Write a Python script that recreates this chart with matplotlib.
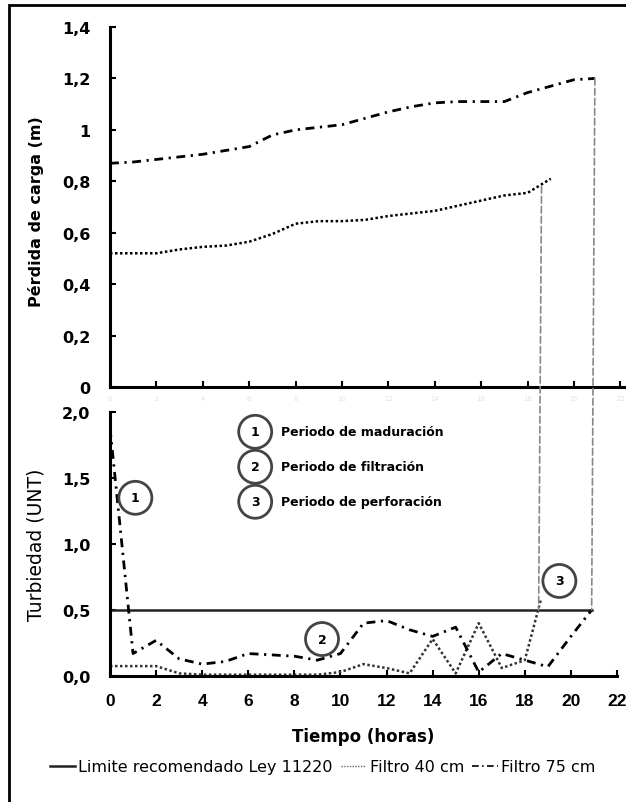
import matplotlib
matplotlib.use('Agg')
from matplotlib import pyplot as plt
from matplotlib.patches import ConnectionPatch, Rectangle
from matplotlib.lines import Line2D

plt.rcParams['font.family'] = ['DejaVu Sans']

# perdida de carga (m)
horas_p40 = [0, 1, 2, 3, 4, 5, 6, 7, 8, 9, 10, 11, 12, 13, 14, 15, 16, 17, 18, 19]
perdida_40 = [0.52, 0.52, 0.52, 0.535, 0.545, 0.55, 0.565, 0.595, 0.635, 0.645,
              0.645, 0.65, 0.665, 0.675, 0.685, 0.705, 0.725, 0.745, 0.755, 0.81]
horas_p75 = [0, 1, 2, 3, 4, 5, 6, 7, 8, 9, 10, 11, 12, 13, 14, 15, 16, 17, 18, 19, 20, 20.9]
perdida_75 = [0.87, 0.875, 0.885, 0.895, 0.905, 0.92, 0.935, 0.98, 1.0, 1.01, 1.02,
              1.045, 1.07, 1.09, 1.105, 1.11, 1.11, 1.11, 1.145, 1.17, 1.195, 1.20]

# turbiedad (UNT)
horas_t40 = [0, 1, 2, 3, 4, 5, 6, 7, 8, 9, 10, 11, 12, 13, 14, 15, 16, 17, 18, 18.7]
turb_40 = [0.075, 0.075, 0.075, 0.02, 0.01, 0.01, 0.01, 0.01, 0.01, 0.01,
           0.03, 0.09, 0.06, 0.02, 0.28, 0.02, 0.40, 0.06, 0.12, 0.58]
horas_t75 = [0, 1, 2, 3, 4, 5, 6, 7, 8, 9, 10, 11, 12, 13, 14, 15, 16, 17, 18, 19, 20, 20.9]
turb_75 = [1.88, 0.17, 0.27, 0.13, 0.09, 0.11, 0.17, 0.16, 0.15, 0.12, 0.17,
           0.40, 0.42, 0.35, 0.30, 0.37, 0.03, 0.17, 0.12, 0.07, 0.30, 0.50]

limite_horas = [0, 20.9]
limite_valor = [0.5, 0.5]

# fin de carrera de cada filtro
corte_40 = (18.6, 0.78)
corte_75 = (20.9, 1.20)

xticks = list(range(0, 23, 2))
yticks_top = [0, 0.2, 0.4, 0.6, 0.8, 1.0, 1.2, 1.4]
ylabels_top = ['0', '0,2', '0,4', '0,6', '0,8', '1', '1,2', '1,4']
yticks_bot = [0, 0.5, 1.0, 1.5, 2.0]
ylabels_bot = ['0,0', '0,5', '1,0', '1,5', '2,0']

periodos = ['Periodo de maduración', 'Periodo de filtración', 'Periodo de perforación']

ls_40 = (0, (1, 1))
ls_75 = (0, (3.2, 2, 0.8, 2))

fig = plt.figure(figsize=(6.26, 8.03), dpi=100)
fig.patches.append(Rectangle((9 / 626, -0.1), 1.2, 1.1 - 6 / 803, transform=fig.transFigure,
                             fill=False, edgecolor='black', linewidth=2))

# top: perdida de carga
ax1 = fig.add_axes([110 / 626, 1 - 388 / 803, 516 / 626, 360 / 803])
ax1.plot(horas_p40, perdida_40, color='black', linestyle=ls_40, linewidth=1.8)
ax1.plot(horas_p75, perdida_75, color='black', linestyle=ls_75, linewidth=2.0)
ax1.set_xlim(0, 516 / 23.2)
ax1.set_ylim(0, 1.4)
ax1.set_yticks(yticks_top)
ax1.set_yticklabels(ylabels_top, fontsize=11.5, fontweight='bold')
ax1.set_xticks(xticks)
ax1.set_xticklabels([str(x) for x in xticks], fontsize=5, color='#e2e2e2')
ax1.set_ylabel('Pérdida de carga (m)', fontsize=11.5, fontweight='bold')
ax1.yaxis.set_label_coords(-0.128, 0.49)
ax1.spines['top'].set_visible(False)
ax1.spines['right'].set_visible(False)
ax1.spines['left'].set_linewidth(2.2)
ax1.spines['bottom'].set_linewidth(2.2)
ax1.tick_params(direction='in', length=4, width=1.5)
ax1.tick_params(axis='y', pad=14)
ax1.tick_params(axis='x', pad=6)

# bottom: turbiedad
ax2 = fig.add_axes([110 / 626, 1 - 677 / 803, 507 / 626, 264 / 803])
ax2.plot(limite_horas, limite_valor, color='#222222', linewidth=1.8)
ax2.plot(horas_t40, turb_40, color='#333333', linestyle=ls_40, linewidth=1.8)
ax2.plot(horas_t75, turb_75, color='black', linestyle=ls_75, linewidth=2.0)
ax2.set_xlim(0, 22)
ax2.set_ylim(0, 2.0)
ax2.set_yticks(yticks_bot)
ax2.set_yticklabels(ylabels_bot, fontsize=11.5, fontweight='bold')
ax2.set_xticks(xticks)
ax2.set_xticklabels([str(x) for x in xticks], fontsize=12.5, fontweight='bold',
                    family='Liberation Sans')
ax2.set_xlabel('Tiempo (horas)', fontsize=12, fontweight='bold', labelpad=14)
ax2.set_ylabel('Turbiedad (UNT)', fontsize=13.5)
ax2.yaxis.set_label_coords(-0.128, 0.5)
ax2.spines['top'].set_visible(False)
ax2.spines['right'].set_visible(False)
ax2.spines['left'].set_linewidth(2.2)
ax2.spines['bottom'].set_linewidth(2.2)
ax2.tick_params(direction='in', length=4, width=1.5)
ax2.tick_params(axis='x', pad=12)
ax2.tick_params(axis='y', pad=14)

circ = dict(boxstyle='circle,pad=0.8', facecolor='white', edgecolor='#444444', linewidth=2)
ax2.text(1.1, 1.35, '1', fontsize=9, fontweight='bold', ha='center', va='center', bbox=circ)
ax2.text(9.2, 0.28, '2', fontsize=9, fontweight='bold', ha='center', va='center', bbox=circ)
ax2.text(19.5, 0.72, '3', fontsize=9, fontweight='bold', ha='center', va='center', bbox=circ)
for i, (yy, txt) in enumerate(zip([1.85, 1.585, 1.32], periodos)):
    ax2.text(6.3, yy, str(i + 1), fontsize=9, fontweight='bold', ha='center', va='center', bbox=circ)
    ax2.text(7.4, yy, txt, fontsize=9, fontweight='bold', ha='left', va='center')

for xx, yy in [corte_40, corte_75]:
    con = ConnectionPatch(xyA=(xx, yy), coordsA=ax1.transData,
                          xyB=(xx, 0.5), coordsB=ax2.transData,
                          color='#888888', linestyle=(0, (4, 2)), linewidth=1.2)
    fig.add_artist(con)

h_lim = Line2D([], [], color='#222222', linewidth=1.8)
h_40 = Line2D([], [], color='#666666', linestyle=(0, (1, 1)), linewidth=1.0)
h_75 = Line2D([], [], color='black', linestyle=(0, (4, 2, 1, 2)), linewidth=1.2)
fig.legend([h_lim, h_40, h_75],
           ['Limite recomendado Ley 11220', 'Filtro 40 cm', 'Filtro 75 cm'],
           loc='center', bbox_to_anchor=(0.515, 1 - 768 / 803), ncol=3, frameon=False,
           fontsize=11.5, handlelength=1.6, handletextpad=0.2, columnspacing=0.5)

plt.savefig('out.png', dpi=100)
plt.close()
